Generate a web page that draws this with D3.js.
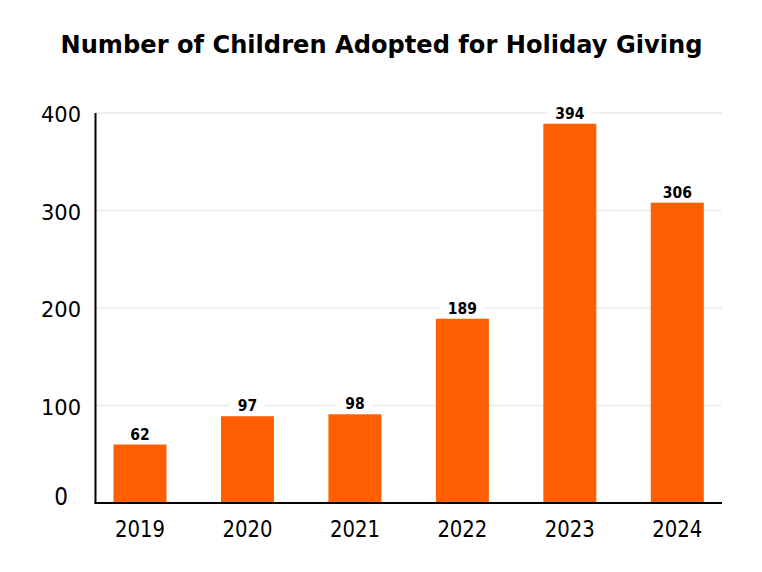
<!DOCTYPE html>
<html><head><meta charset="utf-8">
<script src="https://cdn.jsdelivr.net/npm/d3@7"></script>
<style>body{margin:0;background:#fff}svg{display:block}text{font-family:"DejaVu Sans Condensed","DejaVu Sans",sans-serif}</style>
</head><body><svg id="c" width="762" height="572"></svg>
<script>
const title = "Number of Children Adopted for Holiday Giving";
const years = ["2019","2020","2021","2022","2023","2024"];
const barValues = [60, 89, 91, 189, 389, 308];
const dataLabels = ["62","97","98","189","394","306"];
const yTicks = [0,100,200,300,400];

(function(){
const svg = d3.select("#c");
const mLeft = 95.5, mRight = 722, mTop = 113, mBottom = 503;
const y = d3.scaleLinear().domain([0,400]).range([mBottom, mTop]);
const x = d3.scalePoint().domain(years).range([140, 677.3]);
const bw = 53;
const orange = "#FF5F00";

svg.append("text").attr("x", 381.5).attr("y", 53).attr("text-anchor","middle")
  .style("font-family","'DejaVu Sans',sans-serif")
  .attr("font-size", 25).attr("font-weight","bold").attr("fill","#000")
  .attr("textLength", 642).attr("lengthAdjust","spacingAndGlyphs").text(title);

svg.append("g").selectAll("line").data(yTicks.filter(d=>d>0)).join("line")
  .attr("x1", mLeft).attr("x2", mRight).attr("y1", d=>y(d)).attr("y2", d=>y(d))
  .attr("stroke","#e8eded").attr("stroke-width",1.5);

svg.append("g").selectAll("text").data(yTicks).join("text")
  .attr("x", 61).attr("y", d=>y(d) + (d===0?2:9))
  .attr("text-anchor","middle")
  .style("font-family", d=> d===0 ? "'DejaVu Sans Condensed',sans-serif" : "'DejaVu Sans',sans-serif")
  .attr("font-size", d=> d===0 ? 24 : 21).attr("fill","#000").text(d=>d);

svg.append("g").selectAll("rect").data(years).join("rect")
  .attr("x", d=>x(d)-bw/2).attr("width", bw)
  .attr("y", (d,i)=>y(barValues[i])).attr("height", (d,i)=>y(0)-y(barValues[i]))
  .attr("fill", orange);

const lg = svg.append("g");
years.forEach((d,i)=>{
  const g = lg.append("g");
  const t = g.append("text").attr("x", x(d)).attr("y", y(barValues[i]) - 5)
    .attr("text-anchor","middle").attr("font-size",15.5).attr("font-weight","bold")
    .attr("fill","#000").text(dataLabels[i]);
  const bb = t.node().getBBox();
  g.insert("rect","text").attr("x", bb.x-8).attr("y", bb.y).attr("width", bb.width+16)
    .attr("height", bb.height).attr("fill","#fff");
});

svg.append("line").attr("x1",mLeft).attr("x2",mLeft).attr("y1",mTop).attr("y2",mBottom+1)
  .attr("stroke","#000").attr("stroke-width",2);
svg.append("line").attr("x1",mLeft-1).attr("x2",mRight).attr("y1",mBottom).attr("y2",mBottom)
  .attr("stroke","#000").attr("stroke-width",2);

svg.append("g").selectAll("text").data(years).join("text")
  .attr("x", d=>x(d)).attr("y", 537).attr("text-anchor","middle")
  .attr("font-size",23).attr("fill","#000")
  .attr("textLength", 50).attr("lengthAdjust","spacingAndGlyphs").text(d=>d);
})();
</script></body></html>
